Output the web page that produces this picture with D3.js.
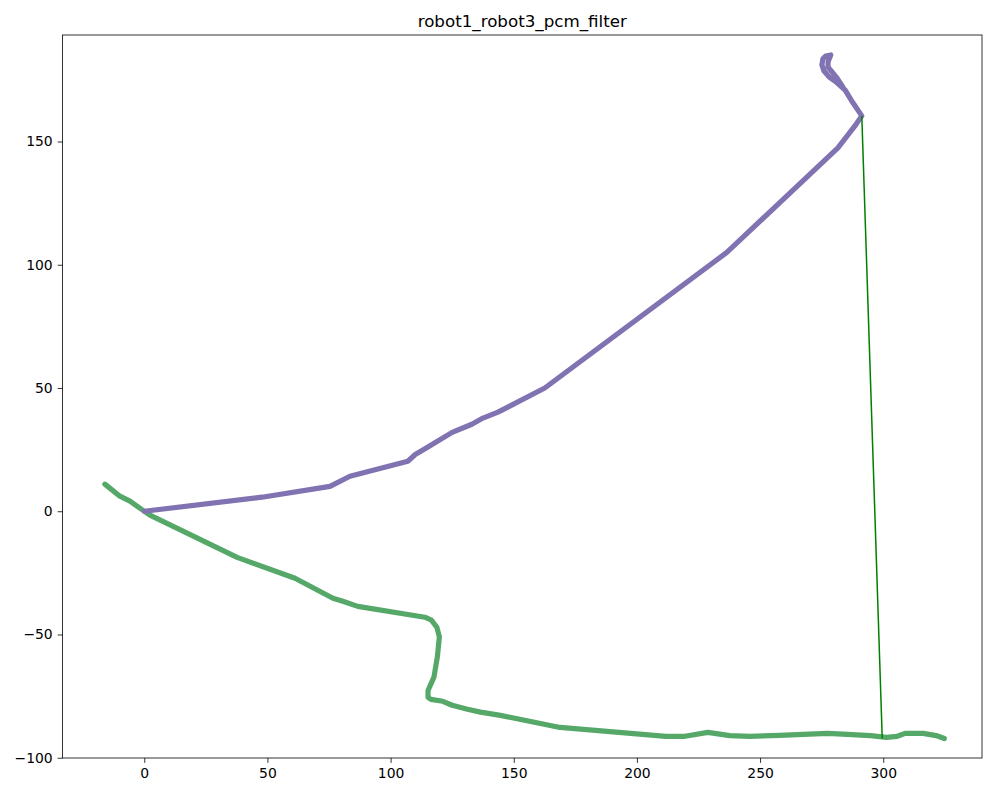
<!DOCTYPE html>
<html>
<head>
<meta charset="utf-8">
<script src="https://cdn.jsdelivr.net/npm/d3@7"></script>
<style>
body{margin:0;background:#fff;}
text{font-family:"DejaVu Sans",sans-serif;}
</style>
</head>
<body>
<div id="root"></div>
<script>
// trajectories
var robot1X=[0,47.8,75.4,83.5,107,110,115,119,125,133,137.5,143.6,162.6,236.5,281.6,288.5,291.3,287.5,284.5,280.8,278.0,275.9,275.1,275.5,276.7,278.7,277.6,277.6,279.2,281.2,283.6];
var robot1Y=[0,5.7,10.1,14.2,20.3,23,26,28.4,32,35.3,37.8,40.2,50,105,147.4,156.3,160.4,166,170.9,174.2,176.2,178.7,181.1,183.5,184.7,185.1,182.3,180.2,178.2,175.8,172.1];

var robot3X=[-16,-9.9,-5.8,0,2.3,37.7,61.2,76.6,80.6,86.7,113.9,116.6,118.8,119.8,119,117.6,115.2,115.2,116.4,121.2,125,131.2,136.5,144.6,168.8,211.8,219.5,228.8,237.7,245.8,257.9,277.4,285.5,294.8,301.3,305.7,308.9,316.2,321.5,324.8];
var robot3Y=[11,6.1,4.1,0,-1.6,-18.7,-27.2,-35.3,-36.5,-38.6,-43,-44.2,-47.1,-51,-59,-67.3,-72.7,-75.5,-76.3,-77.1,-78.7,-80.3,-81.5,-82.8,-87.7,-91.3,-91.3,-89.7,-91,-91.3,-90.9,-90.1,-90.5,-91,-91.7,-91.3,-90.1,-90.1,-91,-92.2];

// loop-closure link
var linkX=[291.3,299.6];
var linkY=[160.4,-92.2];

var xTicks=[0,50,100,150,200,250,300];
var yTicks=[-100,-50,0,50,100,150];

var b={t:35,r:15,b:39,l:62.5};
var W=997,H=797;
var w=W-b.l-b.r;
var h=H-b.t-b.b;

var svg=d3.select('#root').append('svg').attr('width',W).attr('height',H);

var g=svg.append('g').attr('transform','translate('+b.l+','+b.t+')');

var scaleX=d3.scaleLinear().domain([-33.2,340.1]).range([0,w]);
var scaleY=d3.scaleLinear().domain([-100.1,193.2]).range([h,0]);

svg.append('clipPath').attr('id','clip').append('rect').attr('width',w).attr('height',h);

var pts=function(xs,ys){return xs.map(function(x,i){return [x,ys[i]]})};

var line=d3.line()
	.x(function(d){return scaleX(d[0])})
	.y(function(d){return scaleY(d[1])});

var plot=g.append('g').attr('clip-path','url(#clip)');

plot.append('path').attr('d',line(pts(robot3X,robot3Y)))
	.attr('fill','none').attr('stroke','#55a868').attr('stroke-width',5.2)
	.attr('stroke-linecap','round').attr('stroke-linejoin','round');

plot.append('path').attr('d',line(pts(robot1X,robot1Y)))
	.attr('fill','none').attr('stroke','#8172b2').attr('stroke-width',5.2)
	.attr('stroke-linecap','round').attr('stroke-linejoin','round');

plot.append('path').attr('d',line(pts(linkX,linkY)))
	.attr('fill','none').attr('stroke','#008000').attr('stroke-width',1.5);

var xAxis=d3.axisBottom(scaleX).tickValues(xTicks).tickSize(4.9).tickPadding(4.9).tickFormat(d3.format('d'));
var yAxis=d3.axisLeft(scaleY).tickValues(yTicks).tickSize(4.9).tickPadding(4.9).tickFormat(d3.format('d'));

var xa=g.append('g').attr('transform','translate(0,'+h+')').call(xAxis);
var ya=g.append('g').call(yAxis);
[xa,ya].forEach(function(a){
	a.select('.domain').remove();
	a.selectAll('line').attr('stroke','#000').attr('stroke-width',0.8);
	a.selectAll('text').attr('fill','#000').style('font-size','13.9px');
});

g.append('rect').attr('width',w).attr('height',h)
	.attr('fill','none').attr('stroke','#000').attr('stroke-width',0.8);

svg.append('text').attr('x',b.l+w/2).attr('y',b.t-8)
	.attr('text-anchor','middle').style('font-size','16.7px')
	.text('robot1_robot3_pcm_filter');
</script>
</body>
</html>
